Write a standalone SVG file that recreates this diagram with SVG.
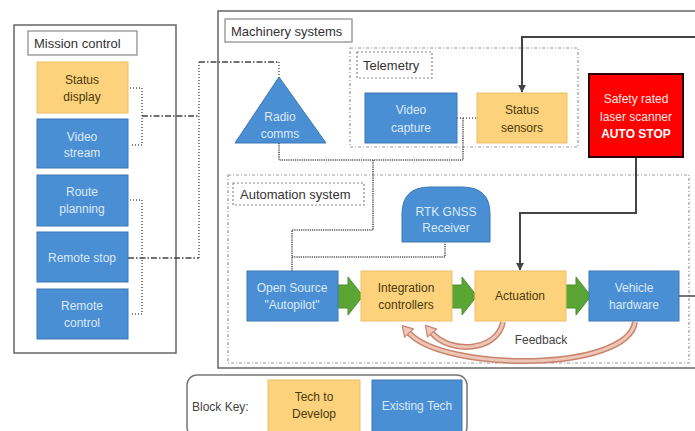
<svg xmlns="http://www.w3.org/2000/svg" width="695" height="431" viewBox="0 0 695 431">
  <defs>
    <style>
      text { font-family: "Liberation Sans", "Open Sans", sans-serif; }
      .frame { fill: #fff; stroke: #666; stroke-width: 1.5; }
      .lbl { fill: #fff; stroke: #888; stroke-width: 1.2; }
      .lbld { fill: #fff; stroke: #888; stroke-width: 1.2; stroke-dasharray: 2 2; }
      .zone { fill: none; stroke: #999; stroke-width: 1.2; stroke-dasharray: 3 2 1 2; }
      .title { font-size: 13px; fill: #333; }
      .blue { fill: #4a8fd4; stroke: #3b76b5; stroke-width: 1; }
      .gold { fill: #fdd27d; stroke: #eec066; stroke-width: 1; }
      .tb { font-size: 12px; fill: #dce9f7; text-anchor: middle; }
      .tg { font-size: 12px; fill: #4a3a0c; text-anchor: middle; }
      .dot { fill: none; stroke: #555; stroke-width: 1.4; stroke-dasharray: 1 2; }
      .dense { fill: none; stroke: #555; stroke-width: 1.6; stroke-dasharray: 1.2 1; }
      .dashdot { fill: none; stroke: #444; stroke-width: 1.3; stroke-dasharray: 6 2 1.5 2; }
      .solid { fill: none; stroke: #444; stroke-width: 2; }
      .green { fill: #5ba535; stroke: #4d8f2c; stroke-width: 1; }
      .fb-out { fill: none; stroke: #c8846f; stroke-width: 6; }
      .fb-in { fill: none; stroke: #efc6b6; stroke-width: 3; }
    </style>
    <marker id="ah" viewBox="0 0 10 10" refX="9" refY="5" markerWidth="4" markerHeight="4" orient="auto">
      <path d="M0 0 L10 5 L0 10 Z" fill="#444"/>
    </marker>
    <marker id="fbh" viewBox="0 0 10 12" refX="0" refY="6" markerUnits="userSpaceOnUse" markerWidth="10" markerHeight="12" orient="auto" overflow="visible">
      <path d="M0 0 L10 6 L0 12 Z" fill="#efc6b6" stroke="#c8846f" stroke-width="1.2" stroke-linejoin="round"/>
    </marker>
  </defs>

  <!-- outer frames -->
  <g id="mission-control">
    <rect class="frame" x="14" y="25" width="162" height="328"/>
    <rect class="lbl" x="28" y="31" width="109" height="24"/>
    <text class="title" x="34" y="48">Mission control</text>
  </g>
  <g id="machinery-systems">
    <rect class="frame" x="218" y="11" width="490" height="357"/>
    <rect class="lbl" x="225" y="19" width="127" height="23"/>
    <text class="title" x="231" y="36">Machinery systems</text>
  </g>
  <g id="telemetry">
    <rect class="zone" x="350" y="48" width="228" height="99"/>
    <rect class="lbld" x="357" y="52" width="75" height="26"/>
    <text class="title" x="363" y="70">Telemetry</text>
  </g>
  <g id="automation-system">
    <rect class="zone" x="228" y="175" width="461" height="188"/>
    <rect class="lbld" x="233" y="183" width="131" height="22"/>
    <text class="title" x="240" y="199">Automation system</text>
  </g>

  <!-- connectors -->
  <g id="connectors">
    <path class="dot" d="M130 88 H142 V145 H130"/>
    <path class="dot" d="M130 200 H142 V314 H130"/>
    <path class="dashdot" d="M142 116 H199"/>
    <path class="dashdot" d="M128 258 H199"/>
    <path class="dot" d="M199 62 V258"/>
    <path class="dashdot" d="M199 62 H279"/>
    <path class="dot" d="M279 62 V77"/>
    <path class="dense" d="M279 143 V160 H463"/>
    <path class="dot" d="M457 118 H477"/>
    <path class="dense" d="M463 118 V160"/>
    <path class="dense" d="M373 160 V230 H292 V271"/>
    <path class="dense" d="M292 257 H445 V243"/>
    <path class="solid" marker-end="url(#ah)" d="M695 37 H522 V92"/>
    <path class="solid" marker-end="url(#ah)" d="M636 157 V213 H520 V270"/>
    <path class="solid" d="M679 296 H695" style="stroke-width:1.5"/>
    <path class="green" d="M336 285 H348 V277 L363 296 L348 315 V308 H336 Z"/>
    <path class="green" d="M450 285 H462 V277 L477 296 L462 315 V308 H450 Z"/>
    <path class="green" d="M564 285 H576 V277 L591 296 L576 315 V308 H564 Z"/>
    <!-- feedback loops back to the integration controllers -->
    <path class="fb-out" d="M635 322 C628 372, 445 372, 409 333"/>
    <path class="fb-in" marker-end="url(#fbh)" d="M635 322 C628 372, 445 372, 409 333"/>
    <path class="fb-out" d="M503 322 C497 352, 450 354, 432 333"/>
    <path class="fb-in" marker-end="url(#fbh)" d="M503 322 C497 352, 450 354, 432 333"/>
    <text x="541" y="344" text-anchor="middle" style="font-size:12px;fill:#444">Feedback</text>
  </g>

  <!-- mission control blocks -->
  <g id="status-display">
    <rect class="gold" x="37" y="62" width="91" height="51"/>
    <text class="tg" x="82" y="84">Status</text>
    <text class="tg" x="82" y="101">display</text>
  </g>
  <g id="video-stream">
    <rect class="blue" x="37" y="119" width="91" height="49"/>
    <text class="tb" x="82" y="141">Video</text>
    <text class="tb" x="82" y="157">stream</text>
  </g>
  <g id="route-planning">
    <rect class="blue" x="37" y="175" width="91" height="51"/>
    <text class="tb" x="82" y="196">Route</text>
    <text class="tb" x="82" y="213">planning</text>
  </g>
  <g id="remote-stop">
    <rect class="blue" x="37" y="232" width="91" height="50"/>
    <text class="tb" x="82" y="262">Remote stop</text>
  </g>
  <g id="remote-control">
    <rect class="blue" x="37" y="289" width="91" height="50"/>
    <text class="tb" x="82" y="310">Remote</text>
    <text class="tb" x="82" y="327">control</text>
  </g>

  <!-- machinery blocks -->
  <g id="radio-comms">
    <path class="blue" d="M279 77 L326 143 L235 143 Z"/>
    <text class="tb" x="280" y="121">Radio</text>
    <text class="tb" x="280" y="138">comms</text>
  </g>
  <g id="video-capture">
    <rect class="blue" x="365" y="93" width="92" height="50"/>
    <text class="tb" x="411" y="114">Video</text>
    <text class="tb" x="411" y="132">capture</text>
  </g>
  <g id="status-sensors">
    <rect class="gold" x="477" y="93" width="90" height="50"/>
    <text class="tg" x="522" y="114">Status</text>
    <text class="tg" x="522" y="132">sensors</text>
  </g>
  <g id="laser-scanner">
    <rect x="589" y="74" width="94" height="83" fill="#ff0000" stroke="#2a0000" stroke-width="2"/>
    <text class="tb" x="636" y="103" style="fill:#ffe5e5">Safety rated</text>
    <text class="tb" x="636" y="121" style="fill:#ffe5e5">laser scanner</text>
    <text class="tb" x="636" y="138" style="fill:#fff;font-weight:bold">AUTO STOP</text>
  </g>
  <g id="rtk-gnss">
    <path class="blue" d="M402 242 V214 Q402 187 430 187 H462 Q490 187 490 214 V242 Z"/>
    <text class="tb" x="446" y="216">RTK GNSS</text>
    <text class="tb" x="446" y="232">Receiver</text>
  </g>
  <g id="autopilot">
    <rect class="blue" x="247" y="271" width="91" height="50"/>
    <text class="tb" x="292" y="292">Open Source</text>
    <text class="tb" x="292" y="309">"Autopilot"</text>
  </g>
  <g id="integration-controllers">
    <rect class="gold" x="361" y="271" width="91" height="50"/>
    <text class="tg" x="406" y="292">Integration</text>
    <text class="tg" x="406" y="309">controllers</text>
  </g>
  <g id="actuation">
    <rect class="gold" x="475" y="271" width="91" height="50"/>
    <text class="tg" x="520" y="300">Actuation</text>
  </g>
  <g id="vehicle-hardware">
    <rect class="blue" x="589" y="271" width="90" height="50"/>
    <text class="tb" x="634" y="292">Vehicle</text>
    <text class="tb" x="634" y="309">hardware</text>
  </g>

  <!-- legend -->
  <g id="block-key">
    <rect x="187" y="375" width="280" height="62" rx="10" fill="#fff" stroke="#777" stroke-width="1.5"/>
    <text x="192" y="411" style="font-size:12px;fill:#444">Block Key:</text>
    <rect class="gold" x="268" y="380" width="92" height="52"/>
    <text class="tg" x="314" y="401">Tech to</text>
    <text class="tg" x="314" y="418">Develop</text>
    <rect class="blue" x="372" y="380" width="90" height="52"/>
    <text class="tb" x="417" y="410">Existing Tech</text>
  </g>
</svg>
